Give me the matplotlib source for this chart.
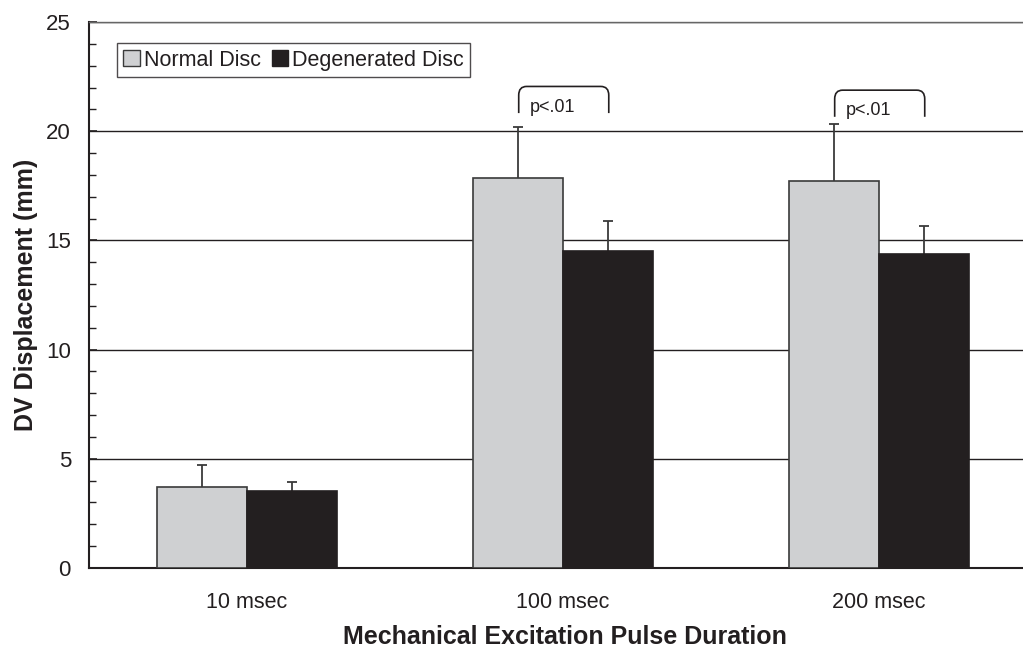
import numpy as np
import matplotlib
matplotlib.use("Agg")
import matplotlib.pyplot as plt
from matplotlib.path import Path
from matplotlib.patches import PathPatch, Patch
from matplotlib.ticker import MultipleLocator

plt.rcParams['font.family'] = ['Liberation Sans', 'DejaVu Sans']

# data
durations = ['10 msec', '100 msec', '200 msec']
normal = [3.72, 17.86, 17.74]
normal_err = [0.98, 2.33, 2.60]
degen = [3.54, 14.51, 14.38]
degen_err = [0.41, 1.38, 1.29]
sig_groups = [1, 2]
sig_tops = [22.05, 21.88]
sig_text = 'p<.01'

dark = '#231f20'
light = '#cfd0d2'

fig = plt.figure(figsize=(10.23, 6.48), dpi=100)
ax = fig.add_axes([0.087, 0.1235, 0.913, 0.8425])

x = np.arange(len(durations))
w = 0.285

ax.bar(x - w / 2, normal, w, color=light, edgecolor='#3a3a3a', linewidth=1.2, zorder=3)
ax.bar(x + w / 2, degen, w, color=dark, edgecolor=dark, linewidth=1.2, zorder=3)

for xs, vals, errs in [(x - w / 2, normal, normal_err), (x + w / 2, degen, degen_err)]:
    eb = ax.errorbar(xs, vals, yerr=[np.zeros(len(vals)), errs], fmt='none',
                     ecolor='#3a3a3a', elinewidth=1.3, capsize=3.6, capthick=1.3, zorder=2)
    eb[1][0].set_visible(False)

# significance brackets
for g, top in zip(sig_groups, sig_tops):
    bot = top - 1.22
    x0, x1 = g - 0.14, g + 0.145
    rx, ry = 0.025, 0.4
    verts = [(x0, bot), (x0, top - ry), (x0, top), (x0 + rx, top),
             (x1 - rx, top), (x1, top), (x1, top - ry), (x1, bot)]
    codes = [Path.MOVETO, Path.LINETO, Path.CURVE3, Path.CURVE3,
             Path.LINETO, Path.CURVE3, Path.CURVE3, Path.LINETO]
    ax.add_patch(PathPatch(Path(verts, codes), fill=False, edgecolor=dark, lw=1.2, zorder=4))
    ax.text(x0 + 0.035, top - 0.95, sig_text, fontsize=13, ha='left', va='center', color=dark)

ax.set_xlim(-0.5, 2.456)
ax.set_ylim(0, 25)
ax.yaxis.set_major_locator(MultipleLocator(5))
ax.yaxis.set_minor_locator(MultipleLocator(1))
ax.grid(axis='y', color=dark, linewidth=1.0, zorder=0)
ax.set_axisbelow(True)

ax.spines['right'].set_visible(False)
ax.spines['top'].set_color('#666666')
ax.spines['top'].set_linewidth(1.0)
ax.spines['left'].set_color(dark)
ax.spines['left'].set_linewidth(1.5)
ax.spines['bottom'].set_color(dark)
ax.spines['bottom'].set_linewidth(1.5)

ax.tick_params(axis='y', which='major', direction='in', length=6, width=1.2,
               pad=13, labelsize=16, colors=dark)
ax.tick_params(axis='y', which='minor', direction='in', length=5, width=1.0, colors=dark)
ax.set_xticks(x)
ax.set_xticklabels(durations)
ax.tick_params(axis='x', length=0, pad=17, labelsize=15.5, colors=dark)

ax.set_ylabel('DV Displacement (mm)', fontsize=18, fontweight='bold', color=dark, labelpad=6)
ax.set_xlabel('Mechanical Excitation Pulse Duration', fontsize=18, fontweight='bold',
              color=dark, labelpad=9)
ax.xaxis.set_label_coords(0.51, -0.105)

handles = [Patch(facecolor=light, edgecolor='#3a3a3a', label='Normal Disc'),
           Patch(facecolor=dark, edgecolor=dark, label='Degenerated Disc')]
leg = ax.legend(handles=handles, loc='upper left', bbox_to_anchor=(0.030, 0.9615),
                borderaxespad=0, ncol=2, fontsize=15.5, frameon=True, fancybox=False,
                handlelength=0.75, handleheight=0.75, handletextpad=0.2,
                columnspacing=0.5, borderpad=0.3)
leg.get_frame().set_edgecolor(dark)
leg.get_frame().set_linewidth(1.0)
for t in leg.get_texts():
    t.set_color(dark)

fig.savefig('out.png', dpi=100)
